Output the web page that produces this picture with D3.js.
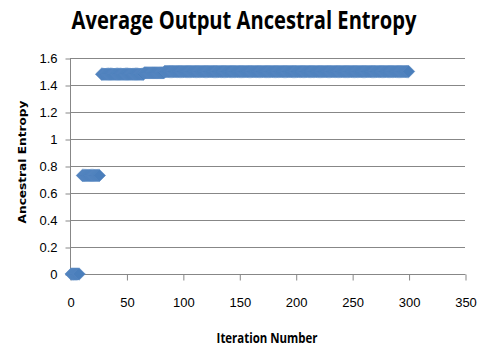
<!DOCTYPE html>
<html>
<head>
<meta charset="utf-8">
<script src="https://cdn.jsdelivr.net/npm/d3@7"></script>
<style>
  body { margin: 0; background: #fff; }
  .tick text { font-family: "Liberation Sans", sans-serif; font-size: 13px; fill: #000; }
</style>
</head>
<body>
<svg id="chart" width="481" height="351"></svg>
<script>
// step runs: iterations runStart..runEnd share one value
var runStart = [1, 11, 28, 66, 84];
var runEnd   = [8, 26, 65, 83, 300];
var runValue = [0, 0.73, 1.48, 1.49, 1.50];

var xTicks = [0, 50, 100, 150, 200, 250, 300, 350];
var yTicks = [0, 0.2, 0.4, 0.6, 0.8, 1, 1.2, 1.4, 1.6];

var points = [];
runStart.forEach(function(s, i){
  for (var it = s; it <= runEnd[i]; it++) points.push({ x: it, y: runValue[i] });
});

var svg = d3.select("#chart"),
    plotLeft = 70, plotRight = 465, plotTop = 58, plotBottom = 274;

var x = d3.scaleLinear().domain([0, 350]).range([plotLeft, plotRight]);
var y = d3.scaleLinear().domain([0, 1.6]).range([plotBottom, plotTop]);

// gridlines
svg.append("g")
  .selectAll("line")
  .data(yTicks.slice(1))
  .enter().append("line")
  .attr("x1", plotLeft).attr("x2", plotRight)
  .attr("y1", function(d){ return Math.round(y(d)) + 0.5; })
  .attr("y2", function(d){ return Math.round(y(d)) + 0.5; })
  .attr("stroke", "#878787").attr("stroke-width", 1);

var yAxis = svg.append("g")
  .attr("transform", "translate(" + (plotLeft + 0.5) + ",0.5)")
  .call(d3.axisLeft(y).tickValues(yTicks).tickSize(5).tickPadding(8)
    .tickFormat(function(d){ return d3.format("")(+d.toFixed(1)); }));

var xAxis = svg.append("g")
  .attr("transform", "translate(0.5," + (plotBottom + 0.5) + ")")
  .call(d3.axisBottom(x).tickValues(xTicks).tickSize(6).tickPadding(17));

xAxis.select(".domain").attr("d", "M" + plotLeft + ",0H" + plotRight);
yAxis.select(".domain").attr("d", "M0," + plotTop + "V" + plotBottom);
[xAxis, yAxis].forEach(function(a){
  a.selectAll("path, line").attr("stroke", "#878787");
});

// diamond markers
var r = 6.2;
var diamond = "M0," + (-r) + "L" + r + ",0L0," + r + "L" + (-r) + ",0Z";
svg.append("g")
  .selectAll("path")
  .data(points)
  .enter().append("path")
  .attr("d", diamond)
  .attr("transform", function(d){ return "translate(" + x(d.x) + "," + y(d.y) + ")"; })
  .attr("fill", "#4A7EBB")
  .attr("stroke", "#5B8AC3").attr("stroke-width", 0.6);

// titles, squeezed horizontally to the narrow widths of the original
var fitText = function(cx, cy, rot, width, family, size, str){
  var t = svg.append("text")
    .attr("text-anchor", "middle")
    .style("font-family", family)
    .style("font-weight", "bold").style("font-size", size + "px")
    .text(str);
  var k = width / t.node().getComputedTextLength();
  t.attr("transform", "translate(" + cx + "," + cy + ") rotate(" + rot + ") scale(" + k + ",1)");
};

fitText(244, 29, 0, 345, "'Open Sans', sans-serif", 25, "Average Output Ancestral Entropy");
fitText(267, 343, 0, 101, "'Open Sans', sans-serif", 14, "Iteration Number");
fitText(26, 162, -90, 123, "'DejaVu Sans', sans-serif", 11, "Ancestral Entropy");
</script>
</body>
</html>
